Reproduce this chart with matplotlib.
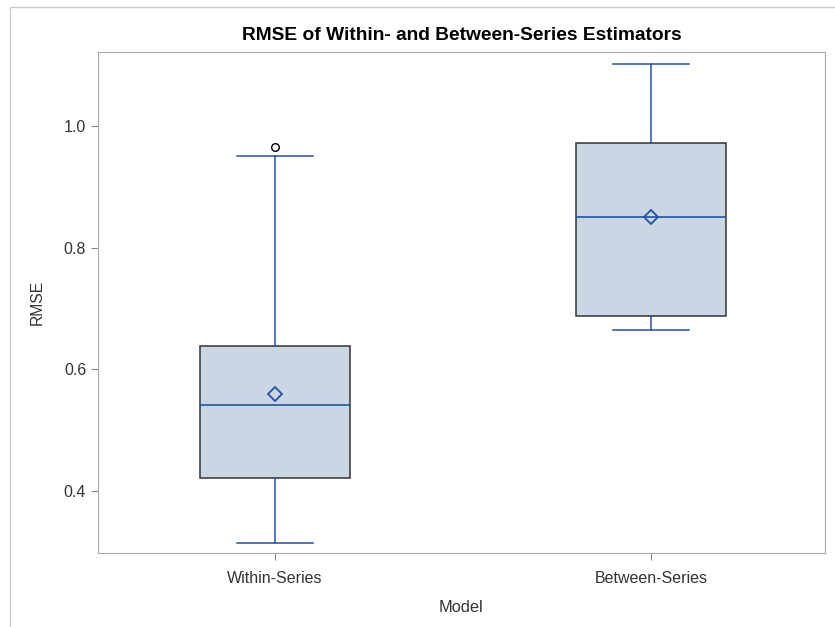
import matplotlib.pyplot as plt
from matplotlib.patches import Rectangle

plt.rcParams['font.family'] = ['Liberation Sans', 'DejaVu Sans']

# summary statistics for each model
models = ['Within-Series', 'Between-Series']
whisker_low = [0.315, 0.665]
q1 = [0.422, 0.688]
median = [0.542, 0.850]
q3 = [0.638, 0.972]
whisker_high = [0.951, 1.102]
mean = [0.560, 0.850]
outliers = [[0.966], []]

stats = []
for i, name in enumerate(models):
    stats.append(dict(label=name, whislo=whisker_low[i], q1=q1[i], med=median[i],
                      q3=q3[i], whishi=whisker_high[i], mean=mean[i],
                      fliers=outliers[i]))

blue = '#2452a8'
fig = plt.figure(figsize=(8.35, 6.27), dpi=100)
ax = fig.add_axes([98 / 835, 1 - 553 / 627, 727 / 835, 501 / 627])

ax.bxp(stats, positions=[0, 1], widths=0.4, patch_artist=True, showmeans=True,
       boxprops=dict(facecolor='#cbd6e5', edgecolor='#333333', linewidth=1.1),
       medianprops=dict(color=blue, linewidth=1.2),
       whiskerprops=dict(color=blue, linewidth=1.1),
       capprops=dict(color=blue, linewidth=1.1),
       capwidths=0.2,
       meanprops=dict(marker='D', markerfacecolor='none', markeredgecolor=blue,
                      markersize=7, markeredgewidth=1.3),
       flierprops=dict(marker='o', markerfacecolor='none', markeredgecolor='black',
                       markersize=5.5, markeredgewidth=1))

ax.set_xlim(-0.471, 1.463)
ax.set_ylim(0.298, 1.122)
ax.set_yticks([0.4, 0.6, 0.8, 1.0])
ax.set_yticklabels(['0.4', '0.6', '0.8', '1.0'])
ax.set_xticks([0, 1])
ax.set_xticklabels(models)

for s in ax.spines.values():
    s.set_color('#aaaaaa')
ax.tick_params(colors='#888888', labelcolor='#333333', labelsize=11.5, length=5)
ax.tick_params(axis='x', pad=8)
ax.set_xlabel('Model', fontsize=11.8, color='#333333', labelpad=10)
ax.set_ylabel('RMSE', fontsize=11.3, color='#333333', labelpad=14)
ax.set_title('RMSE of Within- and Between-Series Estimators', fontsize=13.8,
             fontweight='bold', pad=9)

# outer frame of the graph
fig.patches.append(Rectangle((10 / 835, -0.1), 1.2, 1 - 7 / 627 + 0.1,
                             transform=fig.transFigure, fill=False,
                             edgecolor='#cccccc', linewidth=1))

fig.savefig('out.png', dpi=100)
